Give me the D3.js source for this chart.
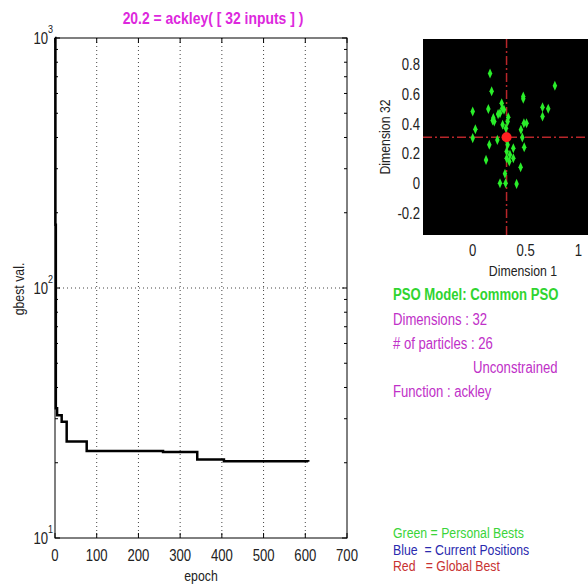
<!DOCTYPE html>
<html>
<head>
<meta charset="utf-8">
<script src="https://cdn.jsdelivr.net/npm/d3@7.9.0/dist/d3.min.js"></script>
<style>
  body { margin: 0; background: #fff; }
  svg { display: block; }
  text { font-family: "Liberation Sans", Arial, sans-serif; }
</style>
</head>
<body>
<svg id="chart" width="588" height="584"></svg>
<script>
// convergence history (gbest value per epoch, step changes only)
const epochs = [0, 1, 2, 5, 16, 28, 76, 259, 341, 405, 607];
const gbestVals = [1000, 179, 33, 31, 29.2, 24.3, 22.3, 22.1, 20.6, 20.3, 20.2];
const epochTicks = [0, 100, 200, 300, 400, 500, 600, 700];
const decadeTicks = [10, 100, 1000];

// swarm snapshot: personal bests (dimension 1 vs dimension 32)
const pbestD1 = [0.164, 0.179, 0.0, 0.025, 0.0, 0.148, 0.157, 0.126, 0.195, 0.204, 0.189,
  0.274, 0.28, 0.296, 0.258, 0.24, 0.336, 0.33, 0.283, 0.314, 0.233, 0.321, 0.33, 0.384,
  0.321, 0.352, 0.321, 0.384, 0.346, 0.305, 0.258, 0.311, 0.415, 0.453, 0.456, 0.469,
  0.487, 0.484, 0.509, 0.478, 0.478, 0.66, 0.714, 0.66, 0.777];
const pbestD32 = [0.745, 0.625, 0.489, 0.369, 0.309, 0.505, 0.264, 0.162, 0.444, 0.421, 0.428,
  0.544, 0.51, 0.5, 0.477, 0.471, 0.45, 0.421, 0.399, 0.376, 0.297, 0.297, 0.264, 0.241,
  0.218, 0.196, 0.173, 0.173, 0.151, 0.068, 0.005, 0.005, 0.0, 0.113, 0.365, 0.313,
  0.248, 0.41, 0.41, 0.59, 0.574, 0.518, 0.507, 0.455, 0.662];
const globalBest = [0.32, 0.315];
const dimTicksX = [0, 0.5, 1];
const dimTicksY = [-0.2, 0, 0.2, 0.4, 0.6, 0.8];

const infoLines = [
  { text: "Dimensions : 32", x: 393, y: 320 },
  { text: "# of particles : 26", x: 393, y: 344 },
  { text: "Unconstrained", x: 473, y: 368 },
  { text: "Function : ackley", x: 393, y: 392 }
];
const legendLines = [
  { text: "Green = Personal Bests", color: "#3ad43a" },
  { text: "Blue  = Current Positions", color: "#2a2aae" },
  { text: "Red   = Global Best", color: "#c83232" }
];

const svg = d3.select("#chart");
const NARROW = 0.82; // matlab's helvetica is narrower than liberation sans

// text drawn horizontally squeezed, anchored at (x, y)
function label(parent, x, y, str, size, opts = {}) {
  const rot = opts.rotate ? ` rotate(${opts.rotate})` : "";
  return parent.append("text")
    .attr("transform", `translate(${x},${y})${rot} scale(${NARROW},1)`)
    .attr("text-anchor", opts.anchor || "start")
    .attr("font-size", size)
    .attr("font-weight", opts.bold ? "bold" : null)
    .attr("fill", opts.color || "#222")
    .style("white-space", "pre")
    .text(str);
}

// ---------- left: convergence plot ----------
const L = { left: 55, right: 347, top: 38, bottom: 538 };
const x = d3.scaleLinear().domain([0, 700]).range([L.left, L.right]);
const y = d3.scaleLog().domain([10, 1000]).range([L.bottom, L.top]);

const grid = svg.append("g").attr("stroke", "#444").attr("stroke-width", 1)
  .attr("stroke-dasharray", "1,3");
epochTicks.filter(t => t > 0 && t < 700).forEach(t => {
  grid.append("line").attr("x1", x(t)).attr("x2", x(t)).attr("y1", L.top).attr("y2", L.bottom);
});
grid.append("line").attr("x1", L.left).attr("x2", L.right).attr("y1", y(100)).attr("y2", y(100));

svg.append("rect").attr("x", L.left).attr("y", L.top)
  .attr("width", L.right - L.left).attr("height", L.bottom - L.top)
  .attr("fill", "none").attr("stroke", "#000").attr("stroke-width", 1);

// ticks (inward, on both sides)
const tk = svg.append("g").attr("stroke", "#000").attr("stroke-width", 1);
epochTicks.forEach(t => {
  tk.append("line").attr("x1", x(t)).attr("x2", x(t)).attr("y1", L.bottom).attr("y2", L.bottom - 5);
  tk.append("line").attr("x1", x(t)).attr("x2", x(t)).attr("y1", L.top).attr("y2", L.top + 5);
});
const minor = [];
[10, 100].forEach(d => { for (let k = 2; k <= 9; k++) minor.push(d * k); });
minor.forEach(v => {
  tk.append("line").attr("x1", L.left).attr("x2", L.left + 3).attr("y1", y(v)).attr("y2", y(v));
  tk.append("line").attr("x1", L.right).attr("x2", L.right - 3).attr("y1", y(v)).attr("y2", y(v));
});
decadeTicks.forEach(v => {
  tk.append("line").attr("x1", L.left).attr("x2", L.left + 5).attr("y1", y(v)).attr("y2", y(v));
  tk.append("line").attr("x1", L.right).attr("x2", L.right - 5).attr("y1", y(v)).attr("y2", y(v));
});

const xl = svg.append("g");
epochTicks.forEach(t => label(xl, x(t), 561, String(t), 16, { anchor: "middle" }));
const yl = svg.append("g");
decadeTicks.forEach(v => {
  label(yl, 48, y(v) + 6, "10", 16, { anchor: "end" });
  label(yl, 48, y(v) - 5, String(Math.log10(v)), 11);
});

label(svg, 201, 581, "epoch", 15, { anchor: "middle" });
label(svg, 24, 289, "gbest val.", 15, { anchor: "middle", rotate: -90 });

label(svg, 213, 24, "20.2 = ackley( [ 32 inputs ] )", 17,
  { anchor: "middle", bold: true, color: "#dd28dd" });

const line = d3.line().x(d => x(d[0])).y(d => y(d[1])).curve(d3.curveStepAfter);
svg.append("path").datum(epochs.map((e, i) => [e, gbestVals[i]]))
  .attr("d", line).attr("fill", "none").attr("stroke", "#000").attr("stroke-width", 2.5);

// ---------- right: swarm scatter ----------
const R = { left: 423, right: 588, top: 39, bottom: 235 };
const sx = d3.scaleLinear().domain([-0.47, 1.09]).range([R.left, R.right]);
const sy = d3.scaleLinear().domain([-0.345, 0.978]).range([R.bottom, R.top]);

svg.append("rect").attr("x", R.left).attr("y", R.top)
  .attr("width", R.right - R.left).attr("height", R.bottom - R.top).attr("fill", "#000");

const syl = svg.append("g");
dimTicksY.forEach(d => label(syl, 420, sy(d) + 5, String(d), 16, { anchor: "end" }));
const sxl = svg.append("g");
dimTicksX.forEach(d => label(sxl, sx(d), 256, String(d), 16, { anchor: "middle" }));
label(svg, 523, 276, "Dimension 1", 15, { anchor: "middle" });
label(svg, 390, 137, "Dimension 32", 15, { anchor: "middle", rotate: -90 });

// crosshair through the global best
const cross = svg.append("g").attr("stroke", "#b8262a").attr("stroke-width", 1.5)
  .attr("stroke-dasharray", "9,3,2,3");
cross.append("line").attr("x1", R.left).attr("x2", R.right)
  .attr("y1", sy(globalBest[1])).attr("y2", sy(globalBest[1]));
cross.append("line").attr("y1", R.top).attr("y2", R.bottom)
  .attr("x1", sx(globalBest[0])).attr("x2", sx(globalBest[0]));

const diamond = d3.symbol().type(d3.symbolDiamond).size(24);
svg.append("g").selectAll("path").data(pbestD1.map((v, i) => [v, pbestD32[i]])).join("path")
  .attr("d", diamond)
  .attr("transform", d => `translate(${sx(d[0])},${sy(d[1])}) scale(0.85,1.1)`)
  .attr("fill", "#2aee2a");

svg.append("circle").attr("cx", sx(globalBest[0])).attr("cy", sy(globalBest[1]))
  .attr("r", 5).attr("fill", "#ff2020");

// ---------- info text ----------
label(svg, 393, 300, "PSO Model: Common PSO", 16, { bold: true, color: "#30d430" });
const info = svg.append("g");
infoLines.forEach(d => label(info, d.x, d.y + 5, d.text, 16, { color: "#c030c8" }));

const leg = svg.append("g");
legendLines.forEach((d, i) => label(leg, 393, 538 + i * 16.7, d.text, 15, { color: d.color }));
</script>
</body>
</html>
